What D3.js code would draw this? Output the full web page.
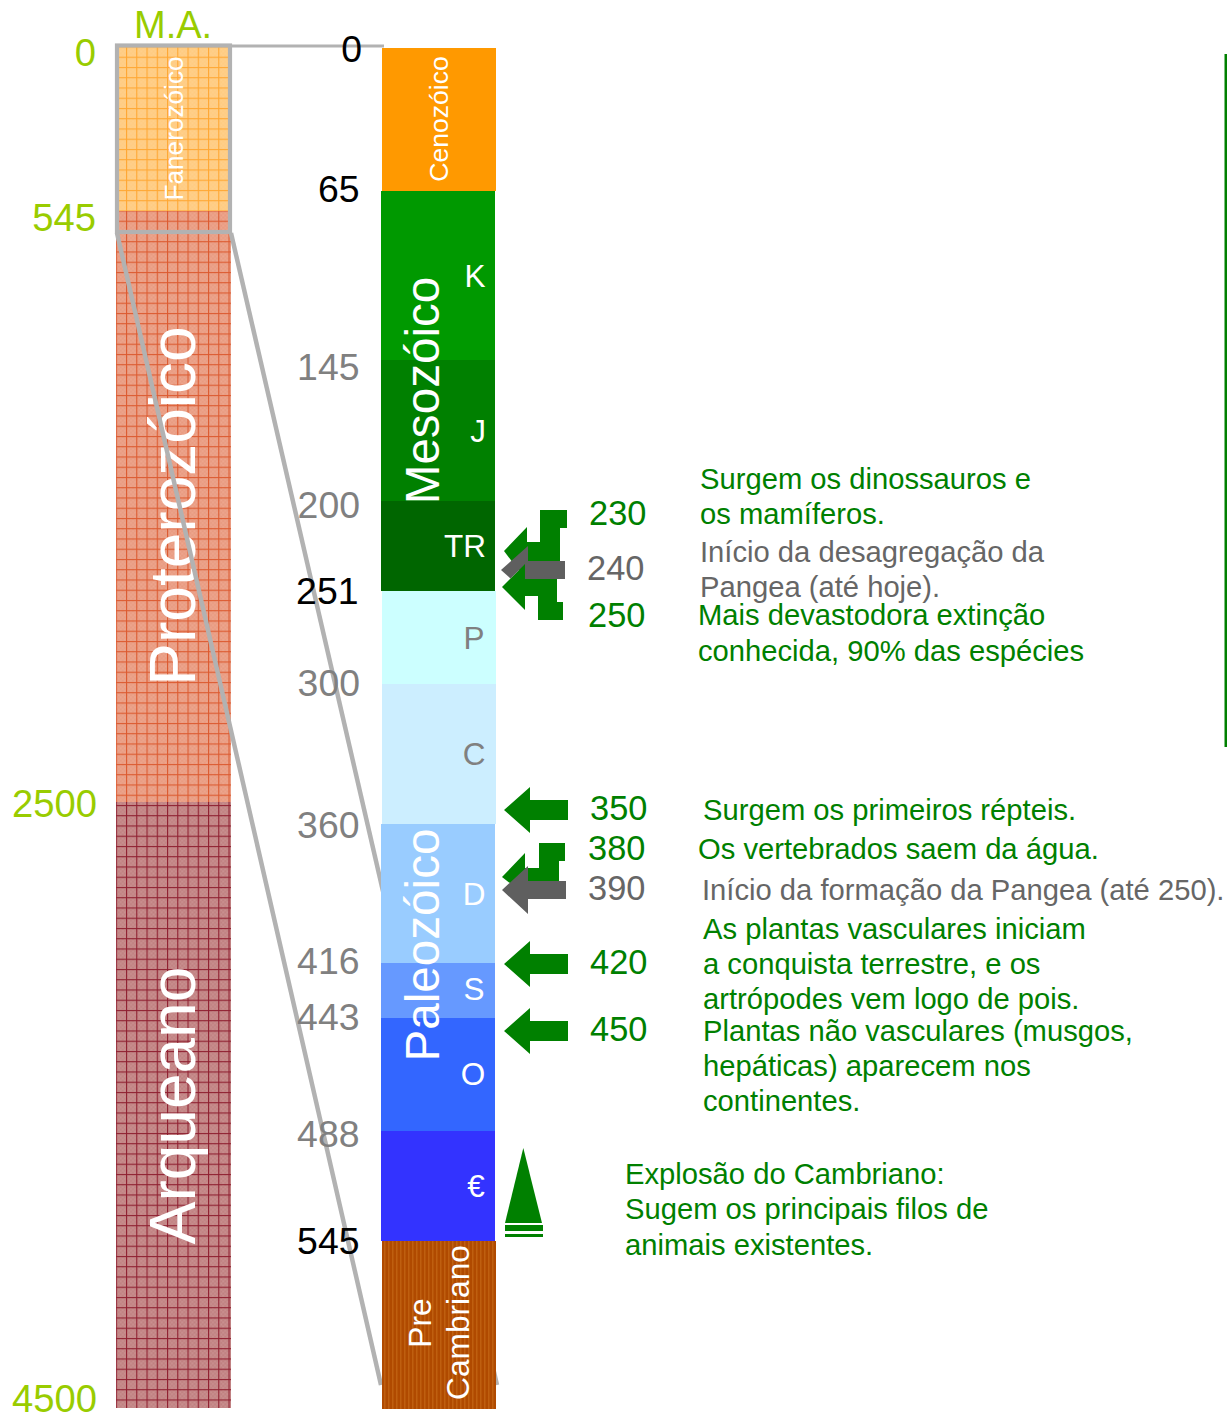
<!DOCTYPE html>
<html><head><meta charset="utf-8">
<script src="https://cdn.jsdelivr.net/npm/d3@7/dist/d3.min.js"></script>
<style>html,body{margin:0;padding:0;background:#fff}svg{display:block}text{font-family:"Liberation Sans",Arial,sans-serif}</style>
</head><body><svg id="c" width="1227" height="1414"></svg>
<script>
// ---- data ----
const eonNames = ["Fanerozóico","Proterozóico","Arqueano"];
const eonStarts = [0,545,2500];
const eonEnds = [545,2500,4500];
const eonTicks = [0,545,2500,4500];

const periodNames = ["Cenozóico","K","J","TR","P","C","D","S","O","€","PreCambriano"];
const periodStarts = [0,65,145,200,251,300,360,416,443,488,545];
const periodEnds = [65,145,200,251,300,360,416,443,488,545,4500];
const periodTicks = [0,65,145,200,251,300,360,416,443,488,545];
const boldTicks = [0,65,251,545];

const eventAges = [230,240,250,350,380,390,420,450];
const eventKinds = ["hook","grey","hookDown","plain","hookShort","greyPlain","plain","plain"];
const eventNotes = [
 ["Surgem os dinossauros e","os mamíferos."],
 ["Início da desagregação da","Pangea (até hoje)."],
 ["Mais devastodora extinção","conhecida, 90% das espécies"],
 ["Surgem os primeiros répteis."],
 ["Os vertebrados saem da água."],
 ["Início da formação da Pangea (até 250)."],
 ["As plantas vasculares iniciam","a conquista terrestre, e os","artrópodes vem logo de pois."],
 ["Plantas não vasculares (musgos,","hepáticas) aparecem nos","continentes."]
];
const cambrianAge = 545;
const cambrianNote = ["Explosão do Cambriano:","Sugem os principais filos de","animais existentes."];

// ---- scales (piecewise: the reference is not to linear time) ----
const yEon = d3.scaleLinear().domain([0,545,2500,4500]).range([46,211,802,1408]);
const yPeriod = d3.scaleLinear().domain([0,65,145,200,251,300,360,416,443,488,545,4500]).range([48,191,360,501,591,684,824,963,1018,1131,1241,1409]);
const yEvent = d3.scaleLinear().domain([230,240,250,350,380,390,420,450]).range([551,570,587,810,877,890,964,1031]);

// ---- styling / layout ----
const GREY="#b2b2b2",LIME="#99cc00",GREEN="#008000",DGREY="#666666";
const periodFill=["#ff9900","#009900","#008000","#006600","#ccffff","#cceeff","#99ccff","#6699ff","#3366ff","#3333ff","url(#stripes)"];
const periodShift=[1,0,0,0,1,1,0,0,0,0,1];
const periodTickNudge=[14,10.5,19.5,16.5,12.5,11.5,13.5,10.5,11.5,15.5,12.5];
const periodTickRight=[362,359.5,359.5,360,358.5,360,359.5,359.5,359.5,359.5,359.5];
const eonFill=["url(#gF)","url(#gP)","url(#gA)"];

const svg=d3.select("#c");
const defs=svg.append("defs");
function hatch(id,bg,light,line){
  const chk=defs.append("pattern").attr("id",id+"c").attr("patternUnits","userSpaceOnUse").attr("width",4).attr("height",4);
  chk.append("rect").attr("width",4).attr("height",4).attr("fill",bg);
  chk.append("rect").attr("width",2).attr("height",2).attr("fill",light);
  chk.append("rect").attr("x",2).attr("y",2).attr("width",2).attr("height",2).attr("fill",light);
  const p=defs.append("pattern").attr("id",id).attr("patternUnits","userSpaceOnUse").attr("width",10.25).attr("height",10.25).attr("x",126).attr("y",56.7);
  p.append("rect").attr("x",-1).attr("y",-1).attr("width",12).attr("height",12).attr("fill",bg);
  p.append("rect").attr("width",10.25).attr("height",10.25).attr("fill",`url(#${id}c)`);
  p.append("rect").attr("x",0).attr("y",0).attr("width",1.1).attr("height",10.25).attr("fill",line);
  p.append("rect").attr("x",0).attr("y",0).attr("width",10.25).attr("height",1.1).attr("fill",line);
}
hatch("gF","#ffcc80","#ffcf8c","#ffa733");
hatch("gP","#e89a80","#eda68e","#dc5a30");
hatch("gA","#c08080","#c99090","#8f1f30");
const st=defs.append("pattern").attr("id","stripes").attr("patternUnits","userSpaceOnUse").attr("width",4).attr("height",4);
st.append("rect").attr("width",4).attr("height",4).attr("fill","#b04a00");
st.append("rect").attr("width",1.5).attr("height",4).attr("fill","#bf5f10");

function txt(g,x,y,s,size,fill,anchor){
  return g.append("text").attr("x",x).attr("y",y).attr("font-size",size).attr("fill",fill).attr("text-anchor",anchor||"start").text(s);
}
function vtxt(g,x,yc,s,size,fill){
  return g.append("text").attr("transform",`translate(${x},${yc}) rotate(-90)`).attr("text-anchor","middle").attr("font-size",size).attr("fill",fill).text(s);
}

// left eon column
const gE=svg.append("g");
gE.selectAll("rect").data(eonNames).join("rect")
 .attr("x",116).attr("width",115)
 .attr("y",(d,i)=>yEon(eonStarts[i])).attr("height",(d,i)=>yEon(eonEnds[i])-yEon(eonStarts[i]))
 .attr("fill",(d,i)=>eonFill[i]);
txt(gE,134,38,"M.A.",38,LIME);
const eonTickBase=[66,231,817,1412];
const eonTickRight=[96,96,97,97];
eonTicks.forEach((t,i)=>txt(gE,eonTickRight[i],eonTickBase[i],t,38.2,LIME,"end"));
vtxt(gE,183,128.5,eonNames[0],26.2,"#fff");
vtxt(gE,195,506,eonNames[1],64,"#fff");
vtxt(gE,195,1105.5,eonNames[2],64,"#fff");

// grey zoom lines
const gL=svg.append("g").attr("fill","none").attr("stroke",GREY);
gL.append("rect").attr("x",117).attr("y",45.5).attr("width",113).attr("height",186.5).attr("stroke-width",4.2);
gL.append("path").attr("stroke-width",3.2).attr("d",d3.line()([[231,46],[384,46]]));
gL.append("path").attr("stroke-width",4.5).attr("d",d3.line()([[117,233],[381,1385]]));
gL.append("path").attr("stroke-width",4.5).attr("d",d3.line()([[231,233],[497,1385]]));

// period column
const gP=svg.append("g");
gP.selectAll("rect").data(periodNames).join("rect")
 .attr("x",(d,i)=>381+periodShift[i]).attr("width",114)
 .attr("y",(d,i)=>yPeriod(periodStarts[i])).attr("height",(d,i)=>yPeriod(periodEnds[i])-yPeriod(periodStarts[i]))
 .attr("fill",(d,i)=>periodFill[i]);
periodTicks.forEach((t,i)=>txt(gP,periodTickRight[i],yPeriod(t)+periodTickNudge[i],t,37.4,boldTicks.includes(t)?"#000":"#808080","end"));
vtxt(gP,448,119,periodNames[0],26.6,"#fff");
vtxt(gP,439,390.5,"Mesozóico",47.6,"#fff");
vtxt(gP,439,945,"Paleozóico",47.6,"#fff");
const letterX=[0,475,478,465,474,474,474,474,473,476];
const letterBase=[0,287,442,557,649,765,905,1000,1085,1197];
const letterFill=["","#fff","#fff","#fff","#808080","#808080","#fff","#fff","#fff","#fff"];
periodNames.slice(1,10).forEach((n,k)=>txt(gP,letterX[k+1],letterBase[k+1],n,31.5,letterFill[k+1],"middle"));
vtxt(gP,431,1323,"Pre",31.7,"#fff");
vtxt(gP,469,1322.5,"Cambriano",31.7,"#fff");

// arrows: drawn relative to the scale position of each event
const arrow=(y,kind)=>{
  const l=d3.line();
  if(kind==="hook")      return l([[504,y],[527,y-24],[527,y-9],[540,y-9],[540,y-41],[567,y-41],[567,y-23],[560,y-23],[560,y+21],[520,y+21]])+"Z";
  if(kind==="hookShort") return l([[502,y],[525,y-24],[525,y-9],[539,y-9],[539,y-34],[565,y-34],[565,y-16],[559,y-16],[559,y+10],[515,y+10]])+"Z";
  if(kind==="hookDown")  return l([[502,y],[525,y-23],[525,y-12],[557,y-12],[557,y+15],[563,y+15],[563,y+33],[538,y+33],[538,y+9],[525,y+9],[525,y+23]])+"Z";
  if(kind==="grey")      return l([[501,y],[528,y-24],[528,y-9],[565,y-9],[565,y+9],[525,y+9],[525,y-6],[510.5,y+8.4]])+"Z";
  if(kind==="greyPlain") return l([[502,y],[528,y-24],[528,y-9],[566,y-9],[566,y+9],[528,y+9],[528,y+24]])+"Z";
  return l([[504,y],[530,y-23],[530,y-10],[568,y-10],[568,y+10],[530,y+10],[530,y+23]])+"Z";
};
const gA=svg.append("g");
const drawOrder=[2,0,1,3,4,5,6,7];
gA.selectAll("path").data(drawOrder).join("path")
 .attr("d",i=>arrow(yEvent(eventAges[i]),eventKinds[i]))
 .attr("fill",i=>eventKinds[i].startsWith("grey")?"#5f5f5f":GREEN);

// event numbers and notes
const eventNumX=[589,587,588,590,588,588,590,590];
const eventNumBase=[525,580,627,820,860,900,974,1041];
const noteX=[700,700,698,703,698,702,703,703];
const noteBase=[488.5,561.5,624.5,819.5,858.5,899.5,938.5,1040.5];
const noteLead=[35,35,36,35,35,35,35,35];
const NOTE=29.2;
eventAges.forEach((a,i)=>{
  const c=(i===1||i===5)?DGREY:GREEN;
  txt(gA,eventNumX[i],eventNumBase[i],a,34.4,c);
  eventNotes[i].forEach((s,k)=>txt(gA,noteX[i],noteBase[i]+k*noteLead[i],s,NOTE,c));
});

// cambrian marker
const yC=yPeriod(cambrianAge);
gA.append("path").attr("fill",GREEN).attr("d",d3.line()([[523.3,yC-93],[542,yC-18],[505,yC-18]])+"Z");
gA.append("rect").attr("x",505).attr("y",yC-16).attr("width",38).attr("height",6).attr("fill",GREEN);
gA.append("rect").attr("x",505).attr("y",yC-7).attr("width",38).attr("height",3).attr("fill",GREEN);
cambrianNote.forEach((s,k)=>txt(gA,625,1183.5+k*35.5,s,NOTE,GREEN));

// right green rule
svg.append("path").attr("stroke",GREEN).attr("stroke-width",3).attr("fill","none").attr("d",d3.line()([[1226,54],[1226,747]]));
</script></body></html>
